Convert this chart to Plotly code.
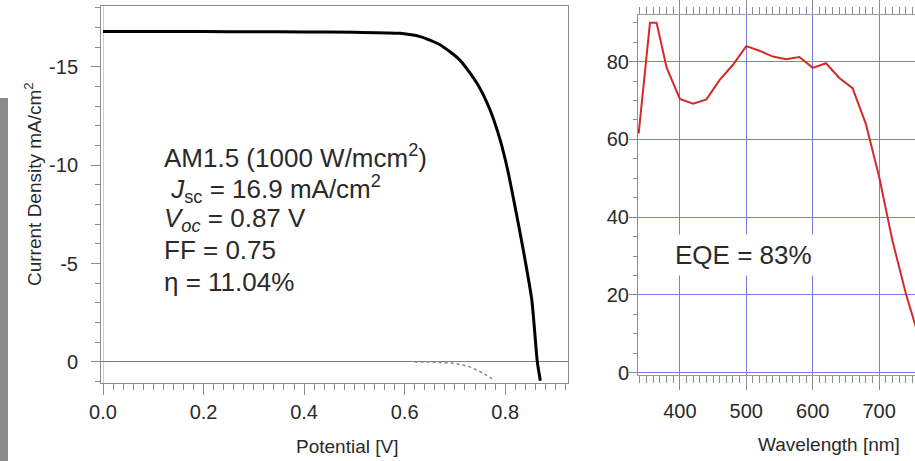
import plotly.graph_objects as go

# ---- J-V data (light) ----
jv_voltage = [0.0, 0.1, 0.2, 0.3, 0.4, 0.5, 0.591, 0.631, 0.671, 0.710, 0.744, 0.770,
              0.790, 0.805, 0.817, 0.836, 0.853, 0.864, 0.870]
jv_current = [-16.8, -16.8, -16.8, -16.79, -16.78, -16.76, -16.71, -16.54, -16.12, -15.35,
              -14.17, -12.81, -11.29, -9.76, -8.24, -5.7, -3.15, 0.0, 0.95]

# ---- J-V data (dark) ----
dark_voltage = [0.62, 0.66, 0.70, 0.73, 0.755, 0.78]
dark_current = [0.0, 0.01, 0.07, 0.25, 0.55, 0.95]

# ---- EQE data ----
eqe_wavelength = [338, 355, 365, 380, 400, 420, 440, 460, 480, 500, 520, 540, 560, 580,
                  600, 620, 640, 660, 680, 700, 720, 740, 760]
eqe_values = [61.5, 90.0, 90.0, 78.5, 70.4, 69.2, 70.3, 75.3, 79.2, 84.0, 82.8, 81.3,
              80.6, 81.2, 78.4, 79.6, 75.8, 73.2, 64.0, 50.4, 34.0, 20.5, 9.0]

jv_ticks = [0.0, 0.2, 0.4, 0.6, 0.8]
jv_tick_labels = ["0.0", "0.2", "0.4", "0.6", "0.8"]
j_ticks = [-15, -10, -5, 0]
j_tick_labels = ["-15", "-10", "-5", "0"]
eqe_x_ticks = [400, 500, 600, 700]
eqe_y_ticks = [0, 20, 40, 60, 80]

W, H = 915, 461
FONT = "Liberation Sans, Arial, sans-serif"
TXT = "#2a2a2a"
AX = "#8c8c8c"
GRID = "#7c7ce0"


def px(x):
    return x / W


def py(y):
    return (H - y) / H


fig = go.Figure()

fig.add_trace(go.Scatter(x=dark_voltage, y=dark_current, mode="lines",
                         line=dict(color="#8a8a8a", width=1.5, dash="dot"),
                         xaxis="x", yaxis="y", showlegend=False, hoverinfo="skip"))
fig.add_trace(go.Scatter(x=jv_voltage, y=jv_current, mode="lines",
                         line=dict(color="#000000", width=3, shape="spline", smoothing=0.6),
                         xaxis="x", yaxis="y", showlegend=False))
fig.add_trace(go.Scatter(x=eqe_wavelength, y=eqe_values, mode="lines",
                         line=dict(color="#d42a2a", width=2),
                         xaxis="x2", yaxis="y2", showlegend=False))

tickfont = dict(family=FONT, size=20, color=TXT)

fig.update_layout(
    width=W, height=H,
    margin=dict(l=0, r=0, t=0, b=0),
    paper_bgcolor="white", plot_bgcolor="white",
    font=dict(family=FONT, color=TXT),
    xaxis=dict(domain=[px(101), px(568)], range=[-0.004, 0.925], anchor="y",
               tickvals=jv_ticks, ticktext=jv_tick_labels, ticks="outside",
               ticklen=11, tickcolor=AX, tickwidth=1,
               minor=dict(dtick=0.02, tick0=0, ticks="outside", ticklen=6, tickcolor=AX),
               showline=True, linecolor=AX, linewidth=1, mirror=True,
               showgrid=False, zeroline=True, zerolinecolor="#c8c8f0", zerolinewidth=1,
               tickfont=tickfont, automargin=False),
    yaxis=dict(domain=[py(383), py(6)], range=[1.07, -18.1], anchor="x",
               tickvals=j_ticks, ticktext=j_tick_labels, ticks="outside", ticklen=9,
               tickcolor=AX, ticklabelstandoff=9,
               minor=dict(dtick=1, tick0=0, ticks="outside", ticklen=5, tickcolor=AX),
               showline=True, linecolor=AX, linewidth=1, mirror=True,
               showgrid=False, zeroline=True, zerolinecolor="#7a7a9a", zerolinewidth=1,
               tickfont=tickfont, automargin=False),
    xaxis2=dict(domain=[px(638), 1.0], range=[337, 754], anchor="y2",
                tickvals=eqe_x_ticks, ticks="outside", ticklen=14, tickcolor=AX,
                ticklabelstandoff=4,
                minor=dict(dtick=10, tick0=0, ticks="outside", ticklen=7, tickcolor=AX),
                showline=True, linecolor="#9a9ab8", linewidth=1, mirror="allticks",
                showgrid=True, gridcolor=GRID, gridwidth=1, zeroline=False,
                tickfont=tickfont, automargin=False),
    yaxis2=dict(domain=[py(375), py(15)], range=[-0.6, 92], anchor="x2",
                tickvals=eqe_y_ticks, ticks="outside", ticklen=8, tickcolor=AX,
                ticklabelstandoff=-4,
                minor=dict(dtick=5, tick0=0, ticks="outside", ticklen=4, tickcolor=AX),
                showline=True, linecolor=AX, linewidth=1,
                showgrid=True, gridcolor=GRID, gridwidth=1, zeroline=False,
                tickfont=tickfont, automargin=False),
)

ann_font = dict(family=FONT, size=26, color=TXT)
lines = [
    ("AM1.5 (1000 W/mcm<sup>2</sup>)", 157),
    (" <i>J</i><sub>sc</sub> = 16.9 mA/cm<sup>2</sup>", 189),
    ("<i>V</i><sub><i>oc</i></sub> = 0.87 V", 219),
    ("FF = 0.75", 250),
    ("η = 11.04%", 282),
]
annotations = []
for txt, yc in lines:
    annotations.append(dict(x=px(162), y=py(yc), xref="paper", yref="paper",
                            text=txt, showarrow=False, xanchor="left", yanchor="middle",
                            font=ann_font))
annotations.append(dict(x=px(743), y=py(255), xref="paper", yref="paper",
                        text="EQE = 83%", showarrow=False, xanchor="center",
                        yanchor="middle", font=ann_font, bgcolor="white", borderpad=5))
annotations.append(dict(x=px(33), y=py(184), xref="paper", yref="paper",
                        text="Current Density mA/cm<sup>2</sup>", showarrow=False,
                        textangle=-90, xanchor="center", yanchor="middle",
                        font=dict(family=FONT, size=19, color=TXT)))
annotations.append(dict(x=px(347), y=py(446), xref="paper", yref="paper",
                        text="Potential [V]", showarrow=False, xanchor="center",
                        yanchor="middle", font=dict(family=FONT, size=19, color=TXT)))
annotations.append(dict(x=px(829), y=py(444), xref="paper", yref="paper",
                        text="Wavelength [nm]", showarrow=False, xanchor="center",
                        yanchor="middle", font=dict(family=FONT, size=19, color=TXT)))
fig.update_layout(annotations=annotations)

fig.add_shape(type="rect", xref="paper", yref="paper", x0=0, x1=px(8), y0=0, y1=py(98),
              fillcolor="#8a8a8a", line=dict(width=0), layer="above")

fig.write_html("out.html", config={"displayModeBar": False},
               post_script="document.body.style.margin='0';")
